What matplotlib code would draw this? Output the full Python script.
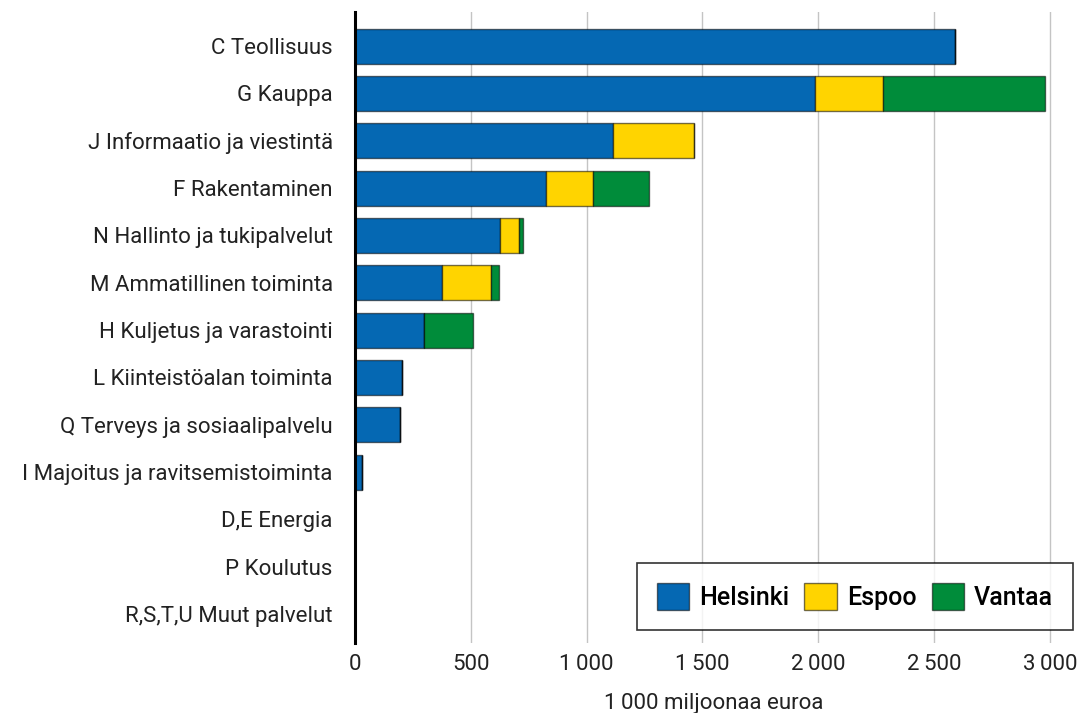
import numpy as np
import matplotlib
matplotlib.use("Agg")
import matplotlib.pyplot as plt
from matplotlib.ticker import FuncFormatter

plt.rcParams['font.family'] = ['Roboto', 'DejaVu Sans']

categories = ["C Teollisuus", "G Kauppa", "J Informaatio ja viestintä",
              "F Rakentaminen", "N Hallinto ja tukipalvelut",
              "M Ammatillinen toiminta", "H Kuljetus ja varastointi",
              "L Kiinteistöalan toiminta", "Q Terveys ja sosiaalipalvelu",
              "I Majoitus ja ravitsemistoiminta", "D,E Energia",
              "P Koulutus", "R,S,T,U Muut palvelut"]
helsinki = [2589, 1988, 1112, 826, 624, 374, 298, 204, 194, 30, 0, 0, 0]
espoo = [0, 290, 352, 201, 86, 213, 0, 0, 0, 0, 0, 0, 0]
vantaa = [0, 702, 0, 243, 14, 33, 212, 0, 0, 0, 0, 0, 0]
series_names = ["Helsinki", "Espoo", "Vantaa"]
colors = ["#0568b3", "#ffd400", "#008c3a"]
xticks = [0, 500, 1000, 1500, 2000, 2500, 3000]

fig = plt.figure(figsize=(10.81, 7.13), dpi=100)
ax = fig.add_axes([0.3284, 0.0982, 0.6642, 0.885])

y = np.arange(len(categories))
left = np.zeros(len(categories))
for name, vals, c in zip(series_names, [helsinki, espoo, vantaa], colors):
    vals = np.array(vals, dtype=float)
    ax.barh(y, vals, left=left, height=0.74, color=c, edgecolor=(0, 0, 0, 0.55),
            linewidth=1, label=name, zorder=3)
    left += vals

ax.set_ylim(len(categories) - 1 + 0.61, -0.72)
ax.set_xlim(0, 3100)
ax.set_yticks(y)
ax.set_yticklabels(categories, fontsize=16, color="#222222")
ax.set_xticks(xticks)
ax.xaxis.set_major_formatter(FuncFormatter(lambda v, p: f"{int(v):,}".replace(",", "\u2009")))
ax.tick_params(axis="both", length=0, labelsize=16, colors="#222222")
ax.tick_params(axis="x", pad=8)
ax.tick_params(axis="y", pad=16)
ax.grid(axis="x", color="#c4c4c4", linewidth=1, zorder=0)

for s in ["top", "right", "bottom"]:
    ax.spines[s].set_visible(False)
ax.spines["left"].set_linewidth(2.2)
ax.spines["left"].set_color("black")
ax.spines["left"].set_zorder(5)

ax.set_xlabel("1\u2009000 miljoonaa euroa", fontsize=16, color="#222222", labelpad=13)

leg = ax.legend(loc="lower right", ncol=3, fontsize=18, frameon=True, fancybox=False,
                edgecolor="black", handlelength=1.3, handleheight=1.3,
                handletextpad=0.4, columnspacing=0.6, borderpad=0.8,
                borderaxespad=0, bbox_to_anchor=(1.0, 0.02))
leg.get_frame().set_linewidth(1.2)
for t in leg.get_texts():
    t.set_fontweight("medium")

fig.savefig("out.png", dpi=100)
